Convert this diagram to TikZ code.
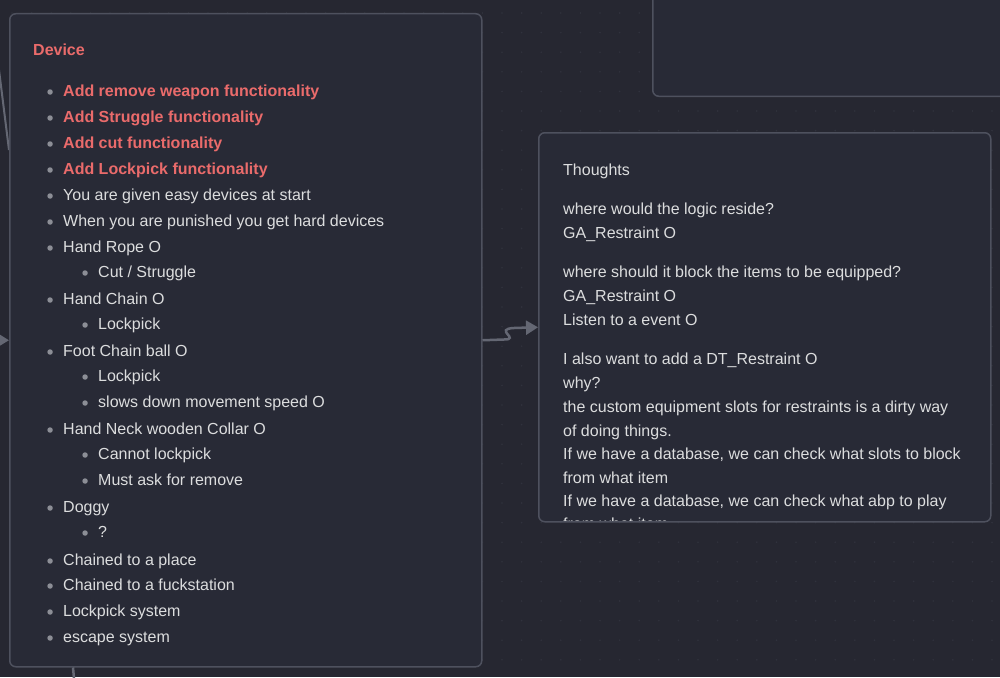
\documentclass[tikz,border=0pt]{standalone}
\usepackage{fontspec}
\setmainfont{Liberation Sans}
\usepackage{xcolor}
\usetikzlibrary{arrows.meta,positioning}
\definecolor{canvasbg}{HTML}{262731}
\definecolor{cardbg}{HTML}{282A36}
\definecolor{cardline}{HTML}{4E515E}
\definecolor{wirec}{HTML}{646773}
\definecolor{gridc}{HTML}{30323D}
\definecolor{ink}{HTML}{DCDDDE}
\definecolor{accent}{HTML}{EA6B6B}
\definecolor{dotc}{HTML}{8C8E96}

\begin{document}
\begin{tikzpicture}[
    x=1pt, y=-1pt,
    font=\fontsize{16}{19}\selectfont,
    card/.style={
		rectangle,
		rounded corners=6pt,
		draw=cardline,
		line width=1.5pt,
		fill=cardbg,
		inner sep=0pt
	},
	line/.style={
		anchor=west,
		inner sep=0pt,
		text=ink,
		text height=11pt,
		text depth=3pt,
		yshift=-2pt
	},
	bulletdot/.style={
		circle,
		fill=dotc,
		inner sep=0pt,
		minimum size=5.5pt,
		xshift=-10pt
	},
	item/.style={
		line,
		label={[bulletdot]west:{}}
	},
	todo/.style={
		item,
		text=accent,
		font=\fontsize{16}{19}\selectfont\bfseries
	},
	wire/.style={
		draw=wirec,
		line width=2.5pt
	}
  ]
    % canvas and its dot grid
  \fill [canvasbg] (0,0) rectangle (1000,677);
  \useasboundingbox (0,0) rectangle (1000,677);
  \clip (0,0) rectangle (1000,677);
  \foreach \gx in {0,...,51}
    \foreach \gy in {0,...,34}
      \fill [gridc] (12+19.6*\gx,13+19.6*\gy) circle (0.9pt);

    % loose ends of wires from outside the view
  \coordinate (offA) at (-6,30);
  \coordinate (offB) at (9,150);
  \coordinate (offL) at (-40,340);
  \coordinate (offD) at (76,700);
  \draw [wire, line width=2pt] (offA) -- (offB);

    % We start by placing the blocks
  \node [card, anchor=north west, minimum width=472pt, minimum height=653pt] (device) at (9,13) {};
  \node [card, anchor=north west, minimum width=452pt, minimum height=389pt] (thoughts) at (538,132) {};
  \node [card, anchor=south west, minimum width=400pt, minimum height=150pt] (notes) at (652,97) {};

  \draw [wire, -{Triangle[length=12pt,width=14pt]}] (offL) -- (device.west);
  \draw [wire] ([xshift=64pt]device.south west) -- (offD);

    % Device card
  \node [line, text=accent, font=\fontsize{16}{19}\selectfont\bfseries] (devtitle) at (33,50) {Device};
  \foreach \y/\t in {90/Add remove weapon functionality, 116/Add Struggle functionality,
                     142/Add cut functionality, 168/Add Lockpick functionality}
    \node [todo] (todo\y) at (63,\y) {\t};
  \foreach \y/\t in {194/You are given easy devices at start, 220/When you are punished you get hard devices,
                     246/Hand Rope O, 298/Hand Chain O, 350/Foot Chain ball O,
                     428/Hand Neck wooden Collar O, 506/Doggy, 559/Chained to a place,
                     584/Chained to a fuckstation, 610/Lockpick system, 636/escape system}
    \node [item] (dev\y) at (63,\y) {\t};
  \foreach \y/\t in {271/{Cut / Struggle}, 323/Lockpick, 375/Lockpick, 401/slows down movement speed O,
                     453/Cannot lockpick, 479/Must ask for remove, 531/?}
    \node [item] (sub\y) at (98,\y) {\t};

    % Thoughts card, cut off at its lower edge
  \begin{scope}
  \clip (540,134) rectangle (988,520.5);
  \foreach \y/\t in {169/Thoughts, 208/where would the logic reside?, 232/GA\_Restraint O,
                     271/where should it block the items to be equipped?, 295/GA\_Restraint O,
                     319/Listen to a event O, 358/I also want to add a DT\_Restraint O, 382/why?,
                     406/the custom equipment slots for restraints is a dirty way,
                     430/of doing things.,
                     453/{If we have a database, we can check what slots to block},
                     477/from what item,
                     500/{If we have a database, we can check what abp to play},
                     523/from what item}
    \node [line] (th\y) at (563,\y) {\t};
  \end{scope}

 \draw [wire, -{Triangle[length=12pt,width=14pt]}] (device.east) -- (504,339.5)
   .. controls (521,339.5) and (493,329) .. (514,328) -- (thoughts.west);

\end{tikzpicture}
\end{document}
